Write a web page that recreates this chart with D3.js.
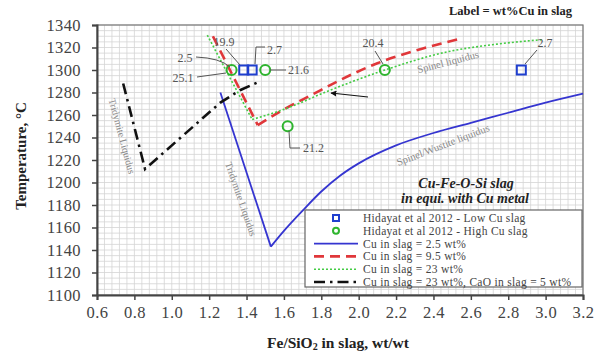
<!DOCTYPE html>
<html><head><meta charset="utf-8">
<script src="https://cdn.jsdelivr.net/npm/d3@7"></script>
<style>body{margin:0;background:#fff}svg{display:block}</style>
</head><body>
<svg id="c" width="596" height="352"></svg>
<script>
// ---------- data ----------
const xTicks = [0.6,0.8,1.0,1.2,1.4,1.6,1.8,2.0,2.2,2.4,2.6,2.8,3.0,3.2];
const yTicks = [1100,1120,1140,1160,1180,1200,1220,1240,1260,1280,1300,1320,1340];

const cu25X = [1.26,1.53,1.6,1.7,1.8,1.9,2.0,2.2,2.4,2.6,2.8,3.0,3.2];
const cu25Y = [1280,1143,1157,1175,1192,1206,1217,1233,1244,1253,1262,1271,1279];

const cu95X = [1.22,1.46,1.6,1.75,1.9,2.1,2.3,2.55];
const cu95Y = [1330,1251,1265,1278,1291,1306,1317,1328];

const cu23X = [1.19,1.43,1.6,1.846,2.14,2.47,2.74,2.985];
const cu23Y = [1331,1256,1265,1282,1300,1316,1323,1327];

const caoX = [0.74,0.857,1.26,1.365,1.46];
const caoY = [1288,1212,1271,1282,1289];

const lowCuX = [1.385,1.43,2.87];
const lowCuY = [1300,1300,1300];
const highCuX = [1.32,1.50,1.62,2.14];
const highCuY = [1300,1300,1250,1300];

const pointLabels = ["19.9","2.7","2.5","25.1","21.6","21.2","20.4","2.7"];
const legendLabels = ["Hidayat et al 2012 - Low Cu slag","Hidayat et al 2012 - High Cu slag",
  "Cu in slag = 2.5 wt%","Cu in slag = 9.5 wt%","Cu in slag = 23 wt%",
  "Cu in slag = 23 wt%, CaO in slag = 5 wt%"];

// ---------- layout ----------
const svg = d3.select("#c");
const L=97,R=583,T=25,B=295;
const x = d3.scaleLinear().domain([0.6,3.2]).range([L,R]);
const y = d3.scaleLinear().domain([1100,1340]).range([B,T]);
const serif = "Liberation Serif, Times New Roman, serif";

// grid
const gx = d3.range(0.6,3.2001,0.04), gy = d3.range(1100,1340.01,5);
svg.append("g").selectAll("line").data(gx).join("line")
  .attr("x1",d=>x(d)).attr("x2",d=>x(d)).attr("y1",T).attr("y2",B)
  .attr("stroke","#d4d4d4").attr("stroke-width",0.8);
svg.append("g").selectAll("line").data(gy).join("line")
  .attr("y1",d=>y(d)).attr("y2",d=>y(d)).attr("x1",L).attr("x2",R)
  .attr("stroke","#d4d4d4").attr("stroke-width",0.8);

// frame
svg.append("rect").attr("x",L).attr("y",T).attr("width",R-L).attr("height",B-T)
  .attr("fill","none").attr("stroke","#777").attr("stroke-width",1.2);

// axes
const xa = svg.append("g").attr("transform",`translate(0,${B})`)
  .call(d3.axisBottom(x).tickValues(xTicks).tickFormat(d3.format(".1f")).tickSize(5).tickPadding(6));
const ya = svg.append("g").attr("transform",`translate(${L},0)`)
  .call(d3.axisLeft(y).tickValues(yTicks).tickFormat(d3.format("d")).tickSize(5).tickPadding(11));
[xa,ya].forEach(a=>{
  a.attr("font-family",serif).attr("font-size",16.5);
  a.select(".domain").attr("stroke","#444").attr("stroke-width",2);
  a.selectAll(".tick line").attr("stroke","#444").attr("stroke-width",1.5);
  a.selectAll(".tick text").style("font-family",serif).style("font-size","16.5px")
    .style("letter-spacing","0.4px").attr("fill","#444");
});

// text annotations
function rtext(t,cx,cy,ang,opt){
  const e=svg.append("text").attr("transform",`translate(${cx},${cy}) rotate(${ang})`)
    .attr("text-anchor","middle").attr("dominant-baseline","central")
    .style("font-family",serif).style("font-size",(opt.size||10)+"px").attr("fill",opt.fill||"#888")
    .text(t);
  if(opt.weight) e.style("font-weight",opt.weight);
  if(opt.style) e.style("font-style",opt.style);
  return e;
}
rtext("Tridymite Liquidus",122,136,75,{size:10});
rtext("Tridymite Liquidus",241,199,71,{size:10});
rtext("Spinel liquidus",448,62,-14.5,{size:10.5});
rtext("Spinel/Wustite liquidus",443,145,-21,{size:10.5});

// lines
const line = d3.line().x(d=>x(d[0])).y(d=>y(d[1]));
const curve = d3.line().x(d=>x(d[0])).y(d=>y(d[1])).curve(d3.curveMonotoneX);
function seriesPath(xs,ys,gen,color,w,dash){
  const p=svg.append("path").datum(xs.map((v,i)=>[v,ys[i]])).attr("d",gen)
    .attr("fill","none").attr("stroke",color).attr("stroke-width",w);
  if(dash) p.attr("stroke-dasharray",dash);
  return p;
}
seriesPath(cu25X.slice(0,2),cu25Y.slice(0,2),line,"#3535d0",1.8);
seriesPath(cu25X.slice(1),cu25Y.slice(1),curve,"#3535d0",1.8);
seriesPath(cu95X.slice(0,2),cu95Y.slice(0,2),line,"#e0373a",2.6,"10,6");
seriesPath(cu95X.slice(1),cu95Y.slice(1),curve,"#e0373a",2.6,"10,6");
seriesPath(cu23X.slice(0,2),cu23Y.slice(0,2),line,"#44cc44",1.6,"2,2");
seriesPath(cu23X.slice(1),cu23Y.slice(1),curve,"#44cc44",1.6,"2,2");
seriesPath(caoX,caoY,line,"#111",2.6,"11,5,2.5,5");

// arrow
svg.append("defs").append("marker").attr("id","ah").attr("viewBox","0 0 10 10")
  .attr("refX",9).attr("refY",5).attr("markerWidth",5).attr("markerHeight",5).attr("orient","auto")
  .append("path").attr("d","M0,0L10,5L0,10z").attr("fill","#111");
svg.append("line").attr("x1",368).attr("y1",97).attr("x2",331).attr("y2",93)
  .attr("stroke","#111").attr("stroke-width",1.2).attr("marker-end","url(#ah)");

// markers
svg.append("g").selectAll("rect").data(lowCuX.map((v,i)=>[v,lowCuY[i]])).join("rect")
  .attr("x",d=>x(d[0])-4.5).attr("y",d=>y(d[1])-4.5).attr("width",9).attr("height",9)
  .attr("fill","none").attr("stroke","#1f3fcf").attr("stroke-width",2);
svg.append("g").selectAll("circle").data(highCuX.map((v,i)=>[v,highCuY[i]])).join("circle")
  .attr("cx",d=>x(d[0])).attr("cy",d=>y(d[1])).attr("r",5)
  .attr("fill","none").attr("stroke","#2fb52f").attr("stroke-width",2);

// point labels with leader lines
const labelLayout = [
  {tx:224,ty:42,anchor:"middle",leader:"M226,49L240,65"},
  {tx:267,ty:50,anchor:"start",leader:"M265,47L256,47L255,64"},
  {tx:185,ty:58,anchor:"middle",leader:"M196,57Q220,58 230,67"},
  {tx:183,ty:78,anchor:"middle",leader:"M197,77L226,73"},
  {tx:288,ty:70,anchor:"start",leader:"M270,70L286,70"},
  {tx:303,ty:148,anchor:"start",leader:"M289,131L290,148L300,148"},
  {tx:373,ty:43,anchor:"middle",leader:"M375,51L383,64"},
  {tx:545,ty:43,anchor:"middle",leader:"M537,50L525,64"}
];
const lg = svg.append("g");
pointLabels.forEach((t,i)=>{
  const l=labelLayout[i];
  lg.append("path").attr("d",l.leader).attr("fill","none").attr("stroke","#555").attr("stroke-width",1);
  lg.append("text").attr("x",l.tx).attr("y",l.ty).attr("text-anchor",l.anchor)
    .attr("dominant-baseline","central").style("font-family",serif).style("font-size","12px")
    .attr("fill","#555").text(t);
});

// titles
svg.append("text").attr("x",572).attr("y",15).attr("text-anchor","end")
  .style("font-family",serif).style("font-weight","bold").style("font-size","12.5px").attr("fill","#222")
  .text("Label = wt%Cu in slag");
rtext("Cu-Fe-O-Si slag",466,183,0,{size:14,fill:"#222",weight:"bold",style:"italic"});
rtext("in equi. with Cu metal",465,198,0,{size:14,fill:"#222",weight:"bold",style:"italic"});

svg.append("text").attr("transform","translate(21,156) rotate(-90)").attr("text-anchor","middle")
  .attr("dominant-baseline","central").style("font-family",serif).style("font-weight","bold")
  .style("font-size","15px").attr("fill","#222").text("Temperature, °C");
const xt = svg.append("text").attr("x",338).attr("y",342).attr("text-anchor","middle")
  .attr("dominant-baseline","central").style("font-family",serif).style("font-weight","bold")
  .style("font-size","15.5px").attr("fill","#222");
xt.append("tspan").text("Fe/SiO");
xt.append("tspan").style("font-size","10px").attr("dy",4).text("2");
xt.append("tspan").attr("dy",-4).text(" in slag, wt/wt");

// legend
const lgX=305, lgY=210;
svg.append("rect").attr("x",lgX).attr("y",lgY).attr("width",277).attr("height",77)
  .attr("fill","#fff").attr("stroke","#666").attr("stroke-width",1.2);
const rowH=12.8, sx0=314, sx1=358, tx=363;
const legStyles=[
  {type:"sq"},{type:"ci"},
  {type:"ln",c:"#3535d0",w:1.8},{type:"ln",c:"#e0373a",w:2.6,d:"10,6"},
  {type:"ln",c:"#44cc44",w:1.6,d:"2,2"},{type:"ln",c:"#111",w:2.6,d:"11,5,2.5,5"}
];
legendLabels.forEach((t,i)=>{
  const cy=lgY+8+i*rowH, s=legStyles[i];
  if(s.type==="sq") svg.append("rect").attr("x",(sx0+sx1)/2-3).attr("y",cy-3).attr("width",6).attr("height",6)
      .attr("fill","none").attr("stroke","#1f3fcf").attr("stroke-width",2);
  else if(s.type==="ci") svg.append("circle").attr("cx",(sx0+sx1)/2).attr("cy",cy).attr("r",3)
      .attr("fill","none").attr("stroke","#2fb52f").attr("stroke-width",2);
  else { const l=svg.append("line").attr("x1",sx0).attr("x2",sx1).attr("y1",cy).attr("y2",cy)
      .attr("stroke",s.c).attr("stroke-width",s.w); if(s.d) l.attr("stroke-dasharray",s.d); }
  svg.append("text").attr("x",tx).attr("y",cy).attr("dominant-baseline","central")
    .style("font-family",serif).style("font-size","11.5px").style("letter-spacing","0.3px")
    .attr("fill","#444").text(t);
});
</script>
</body></html>
